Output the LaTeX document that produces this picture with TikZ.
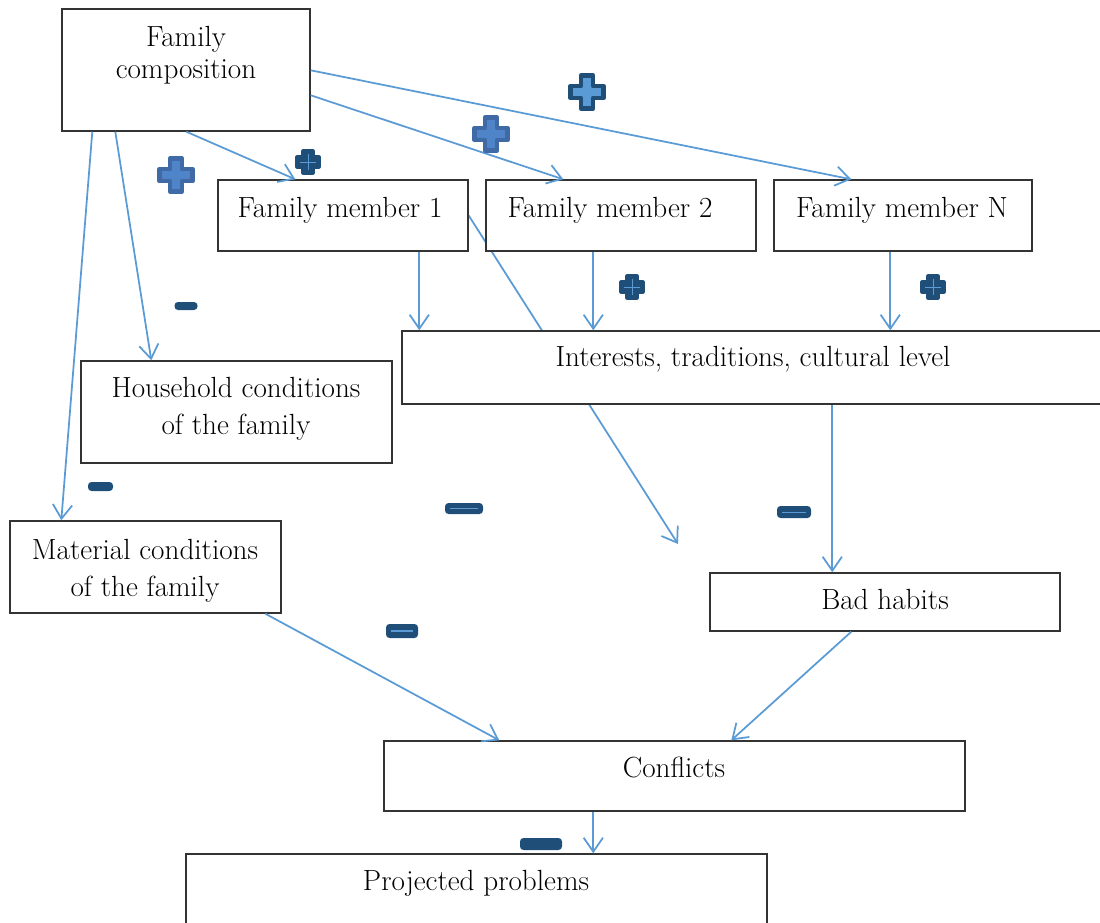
\documentclass[tikz,border=0pt]{standalone}
\usetikzlibrary{arrows.meta,calc,fit,backgrounds}

\definecolor{linkblue}{HTML}{5B9BD5}
\definecolor{signdark}{HTML}{1F4E79}
\definecolor{signborder}{HTML}{3F6AA6}
\definecolor{signmid}{HTML}{4F84C8}
\definecolor{signlight}{HTML}{5B9BD5}

% plus sign: centre x, centre y, fill colour, border colour
\newcommand\drawplus[4]{%
  \begin{scope}[shift={(#1,#2)}]
    \filldraw[fill=#3, draw=#4, line width=2.7pt, line join=round]
      (-6,-16.5) -- (6,-16.5) -- (6,-6) -- (16.5,-6) -- (16.5,6) -- (6,6)
      -- (6,16.5) -- (-6,16.5) -- (-6,6) -- (-16.5,6) -- (-16.5,-6) -- (-6,-6) -- cycle;
  \end{scope}}
% small dark plus sign: centre x, centre y
\newcommand\drawsmallplus[2]{%
  \begin{scope}[shift={(#1,#2)}]
    \filldraw[signdark, line width=1.8pt, line join=round]
      (-5,-11) -- (5,-11) -- (5,-5) -- (11,-5) -- (11,5) -- (5,5)
      -- (5,11) -- (-5,11) -- (-5,5) -- (-11,5) -- (-11,-5) -- (-5,-5) -- cycle;
    \draw[signlight, line width=0.4pt] (-8,0) -- (8,0) (0,-8) -- (0,8);
  \end{scope}}
% minus sign: centre x, centre y, half width, half height, inner line width, inner colour
\newcommand\drawminus[6]{%
  \begin{scope}[shift={(#1,#2)}]
    \fill[signdark, rounded corners=2pt] (-#3,-#4) rectangle (#3,#4);
    \draw[#6, line width=#5] (-#3+5,0) -- (#3-5,0);
  \end{scope}}

\begin{document}
\begin{tikzpicture}[
    x=0.02cm, y=-0.02cm,
    box/.style={draw=black!80, line width=0.8pt, fill=white, inner sep=0pt},
    txt/.style={font=\fontsize{16.6}{21}\selectfont, align=center, anchor=base, inner sep=0pt},
    link/.style={draw=linkblue, line width=1pt, -{Straight Barb[length=8pt,width=11pt]}},
  ]
  \useasboundingbox (0,0) rectangle (1100,923);

  % boxes
  \node[box, fit={(62,9) (310,131)}] (comp) {};
  \node[box, fit={(218,180) (468,251)}] (m1) {};
  \node[box, fit={(486,180) (756,251)}] (m2) {};
  \node[box, fit={(774,180) (1032,251)}] (mN) {};
  \node[box, fit={(402,331) (1115,404)}] (inter) {};
  \node[box, fit={(81,361) (392,463)}] (house) {};
  \node[box, fit={(10,521) (281,613)}] (mat) {};
  \node[box, fit={(710,573) (1060,631)}] (bad) {};
  \node[box, fit={(384,741) (965,811)}] (confl) {};
  \node[box, fit={(186,854) (767,935)}] (proj) {};

  % texts (base = last line)
  \node[txt] (comp-t) at (186,78) {Family\\[-3pt]composition};
  \node[txt] (m1-t) at (340,217) {Family member 1};
  \node[txt] (m2-t) at (610,217) {Family member 2};
  \node[txt] (mN-t) at (902,217) {Family member N};
  \node[txt] (inter-t) at (753,366) {Interests, traditions, cultural level};
  \node[txt] (house-t) at (236,434) {Household conditions\\of the family};
  \node[txt] (mat-t) at (145,596) {Material conditions\\of the family};
  \node[txt] (bad-t) at (885,609) {Bad habits};
  \node[txt] (confl-t) at (674,777) {Conflicts};
  \node[txt] (proj-t) at (476,890) {Projected problems};

  % links from the family composition
  \draw[link] ($(comp.south west)+(125,0)$) -- ($(m1.north west)+(78,0)$);
  \draw[link] ($(comp.north east)+(0,87)$) -- ($(m2.north west)+(78,0)$);
  \draw[link] ($(comp.north east)+(0,62)$) -- ($(mN.north west)+(78,0)$);
  \draw[link] ($(comp.south west)+(54,0)$) -- ($(house.north west)+(71,0)$);
  \draw[link] ($(comp.south west)+(31,0)$) -- ($(mat.north west)+(52,0)$);

  % members to interests
  \foreach \m/\dx in {m1/202, m2/108, mN/117}
    \draw[link] ($(\m.south west)+(\dx,0)$) coordinate (\m-out) -- (\m-out |- inter.north);

  % passes behind the interests box
  \coordinate (tip) at (678,544);
  \begin{scope}[on background layer]
    \draw[link] (m1.east) -- (tip);
  \end{scope}

  \draw[link] ($(inter.south west)+(431,0)$) coordinate (inter-out) -- (inter-out |- bad.north);
  \draw[link] ($(mat.south west)+(256,0)$) -- ($(confl.north west)+(116,0)$);
  \draw[link] ($(bad.south west)+(142,0)$) -- ($(confl.north west)+(348,0)$);
  \draw[link] ($(confl.south west)+(210,0)$) coordinate (confl-out) -- (confl-out |- proj.north);

  % signs
  \drawplus{587}{92}{signlight}{signdark}
  \drawplus{491}{134}{signmid}{signborder}
  \drawplus{176}{175}{signmid}{signborder}
  \drawsmallplus{308}{162}
  \drawsmallplus{632}{287}
  \drawsmallplus{933}{287}
  \drawminus{186}{306}{11.5}{4}{0.4pt}{signdark}
  \drawminus{100.5}{486.5}{12.5}{4.5}{0.4pt}{signdark}
  \drawminus{464}{508.5}{19}{5.5}{0.5pt}{signlight}
  \drawminus{794}{512}{17}{6}{0.5pt}{signlight}
  \drawminus{402}{631}{16}{7}{1.7pt}{signlight}
  \drawminus{541}{844}{21}{6}{0.4pt}{signdark}
\end{tikzpicture}
\end{document}
